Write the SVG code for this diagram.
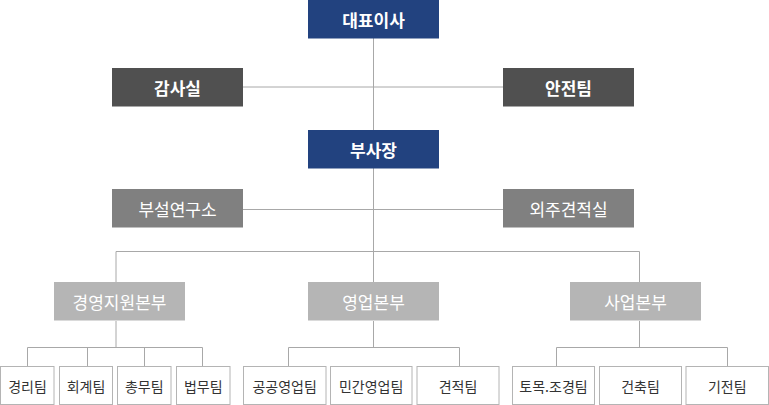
<svg xmlns="http://www.w3.org/2000/svg" width="769" height="405" viewBox="0 0 769 405">
<style>
  text { font-family: "Noto Sans CJK KR", "Noto Sans", sans-serif; text-anchor: middle; dominant-baseline: central; }
  .navy rect { fill: #22427f; }
  .dark rect { fill: #505050; }
  .mid rect { fill: #808080; }
  .light rect { fill: #b5b5b5; }
  .leaf rect { fill: #ffffff; stroke: #b4b4b4; stroke-width: 1; }
  .navy text, .dark text { fill: #ffffff; font-size: 17px; font-weight: bold; }
  .mid text, .light text { fill: #ffffff; font-size: 17px; }
  .leaf text { fill: #333333; font-size: 14px; }
  .conn { fill: none; stroke: #a8a8a8; stroke-width: 1; }
</style>
<rect width="769" height="405" fill="#ffffff"/>
<g id="connectors" class="conn">
  <path d="M373.5 38 V282"/>
  <path d="M243 87 H503"/>
  <path d="M243 209.5 H503"/>
  <path d="M116 282 V251.5 H639.5 V282"/>
  <path d="M116 321 V347.5"/>
  <path d="M27.5 366.5 V347.5 H202.5 V366.5"/>
  <path d="M87.5 347.5 V366.5"/>
  <path d="M144.5 347.5 V366.5"/>
  <path d="M373.5 321 V347.5"/>
  <path d="M288.5 366.5 V347.5 H459.5 V366.5"/>
  <path d="M639.5 321 V347.5"/>
  <path d="M556.5 366.5 V347.5 H727.5 V366.5"/>
</g>
<g id="ceo" class="navy"><rect x="308" y="0" width="131" height="38.5"/><text x="373.5" y="19">대표이사</text></g>
<g id="audit" class="dark"><rect x="112" y="68" width="131" height="38.5"/><text x="177.5" y="87">감사실</text></g>
<g id="safety" class="dark"><rect x="503" y="68" width="131" height="38.5"/><text x="568.5" y="87">안전팀</text></g>
<g id="vp" class="navy"><rect x="308" y="130" width="131" height="38.5"/><text x="373.5" y="149">부사장</text></g>
<g id="lab" class="mid"><rect x="112" y="189" width="131" height="38.5"/><text x="177.5" y="208">부설연구소</text></g>
<g id="estimate-office" class="mid"><rect x="503" y="189" width="131" height="38.5"/><text x="568.5" y="208">외주견적실</text></g>
<g id="mgmt" class="light"><rect x="54" y="282" width="131" height="38.5"/><text x="119.5" y="301">경영지원본부</text></g>
<g id="sales" class="light"><rect x="308" y="282" width="131" height="38.5"/><text x="373.5" y="301">영업본부</text></g>
<g id="biz" class="light"><rect x="570" y="282" width="131" height="38.5"/><text x="635.5" y="301">사업본부</text></g>
<g id="accounting" class="leaf"><rect x="0.5" y="366.5" width="53.5" height="38"/><text x="27.5" y="385.5">경리팀</text></g>
<g id="finance" class="leaf"><rect x="59.5" y="366.5" width="53" height="38"/><text x="86" y="385.5">회계팀</text></g>
<g id="general" class="leaf"><rect x="117.5" y="366.5" width="53.5" height="38"/><text x="144.2" y="385.5">총무팀</text></g>
<g id="legal" class="leaf"><rect x="176.5" y="366.5" width="53.5" height="38"/><text x="203.2" y="385.5">법무팀</text></g>
<g id="public-sales" class="leaf"><rect x="243.5" y="366.5" width="82.5" height="38"/><text x="284.7" y="385.5">공공영업팀</text></g>
<g id="private-sales" class="leaf"><rect x="330.5" y="366.5" width="81.5" height="38"/><text x="371.2" y="385.5">민간영업팀</text></g>
<g id="estimate" class="leaf"><rect x="417" y="366.5" width="82" height="38"/><text x="458" y="385.5">견적팀</text></g>
<g id="civil" class="leaf"><rect x="512.5" y="366.5" width="82" height="38"/><text x="553.5" y="385.5">토목.조경팀</text></g>
<g id="building" class="leaf"><rect x="599.5" y="366.5" width="82" height="38"/><text x="640.5" y="385.5">건축팀</text></g>
<g id="mep" class="leaf"><rect x="686" y="366.5" width="82.5" height="38"/><text x="727.2" y="385.5">기전팀</text></g>
</svg>
